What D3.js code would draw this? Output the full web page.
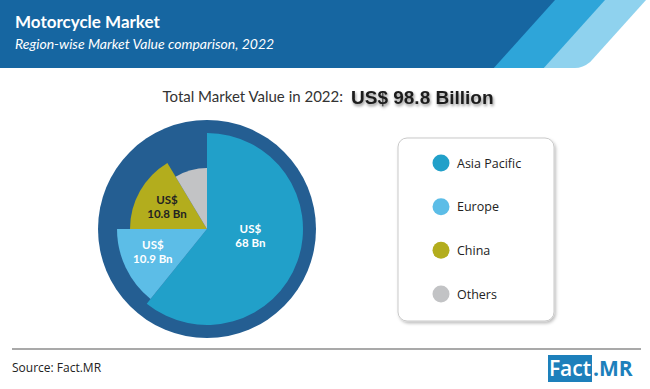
<!DOCTYPE html>
<html>
<head>
<meta charset="utf-8">
<script src="https://cdn.jsdelivr.net/npm/d3@7"></script>
<style>
  html, body { margin: 0; padding: 0; background: #ffffff; }
  svg { display: block; }
</style>
</head>
<body>
<svg id="chart" width="650" height="389"></svg>
<script>
// ---------------- data ----------------
const title = "Motorcycle Market";
const subtitle = "Region-wise Market Value comparison, 2022";
const totalLabel = "Total Market Value in 2022:";
const totalValue = "US$ 98.8 Billion";
const regions = ["Asia Pacific", "Europe", "China", "Others"];
const values = [68, 10.9, 10.8, null];            // US$ Bn, as labelled
const sliceShare = [60.8, 14.2, 16.4, 8.6];        // angular share of each slice as drawn (%)
const sourceText = "Source: Fact.MR";

// ---------------- style ----------------
const colors = ["#21a0c9", "#5cbde7", "#b3ad1d", "#c2c3c5"];
const labelColors = ["#ffffff", "#ffffff", "#222222", "#222222"];
const ringColor = "#245e92";
const W = 650, H = 389;
const cx = 207, cy = 229, ringR = 109;
const sliceRadius = [96, 90, 77, 61];

const svg = d3.select("#chart");
const defs = svg.append("defs");
const sh = defs.append("filter").attr("id", "txtShadow").attr("x", "-10%").attr("y", "-30%").attr("width", "120%").attr("height", "170%");
sh.append("feDropShadow").attr("dx", 1).attr("dy", 2).attr("stdDeviation", 1.6).attr("flood-color", "#000").attr("flood-opacity", 0.45);
const bs = defs.append("filter").attr("id", "boxShadow").attr("x", "-10%").attr("y", "-10%").attr("width", "125%").attr("height", "125%");
bs.append("feDropShadow").attr("dx", 1.5).attr("dy", 2).attr("stdDeviation", 1.8).attr("flood-color", "#000").attr("flood-opacity", 0.25);

// ---------------- header ----------------
const hdrH = 68, k = 0.9;
const header = svg.append("g");
header.append("path")
  .attr("d", `M600,0 L646,0 L${646 - k * 62},62 Q${646 - k * 68 - 2},68 ${646 - k * 68 - 10},68 L${600 - k * 68},68 Z`)
  .attr("fill", "#8fd2ee");
header.append("path")
  .attr("d", `M550,0 L605,0 L${605 - k * 68},68 L${550 - k * 68},68 Z`)
  .attr("fill", "#2ea5d9");
header.append("path")
  .attr("d", `M0,0 L555,0 L${555 - k * hdrH},${hdrH} L0,${hdrH} Z`)
  .attr("fill", "#1666a1");

header.append("text").attr("x", 15).attr("y", 28)
  .attr("font-family", "Lato, 'Open Sans', sans-serif").attr("font-weight", 700).attr("font-size", 17)
  .attr("fill", "#fff").text(title);
header.append("text").attr("x", 15).attr("y", 49)
  .attr("font-family", "Lato, 'Open Sans', sans-serif").attr("font-style", "italic").attr("font-size", 14)
  .attr("fill", "#fff").text(subtitle);

// ---------------- total ----------------
svg.append("text").attr("x", 343).attr("y", 102).attr("text-anchor", "end")
  .attr("font-family", "Lato, 'Open Sans', sans-serif").attr("font-size", 15)
  .attr("fill", "#333").text(totalLabel);
svg.append("text").attr("x", 351).attr("y", 104)
  .attr("font-family", "'Liberation Sans', Arial, sans-serif").attr("font-weight", 700).attr("font-size", 19)
  .attr("fill", "#1c1c1c").attr("filter", "url(#txtShadow)").text(totalValue);

// ---------------- pie ----------------
const pieG = svg.append("g").attr("transform", `translate(${cx},${cy})`);
pieG.append("circle").attr("r", ringR).attr("fill", ringColor);

const pie = d3.pie().sort(null).value(d => d.share);
const data = regions.map((r, i) => ({ region: r, value: values[i], share: sliceShare[i], i }));
const arcs = pie(data);
const arc = d3.arc().innerRadius(0).outerRadius(d => sliceRadius[d.data.i]);

pieG.selectAll("path.slice").data(arcs).join("path")
  .attr("class", "slice")
  .attr("d", arc)
  .attr("fill", d => colors[d.data.i]);

const labelR = [46, 60, 46, 0];
const labelDy = [-9, -3, 0, 0];
const lbl = pieG.selectAll("g.lbl").data(arcs.filter(d => d.data.value != null)).join("g")
  .attr("class", "lbl")
  .attr("transform", d => {
    const c = d3.arc().innerRadius(labelR[d.data.i]).outerRadius(labelR[d.data.i]).centroid(d);
    return `translate(${c[0]},${c[1] + labelDy[d.data.i]})`;
  });
lbl.append("text").attr("text-anchor", "middle").attr("y", -2.5)
  .attr("font-family", "Lato, 'Open Sans', sans-serif").attr("font-weight", 700).attr("font-size", 11.5)
  .attr("fill", d => labelColors[d.data.i]).text("US$");
lbl.append("text").attr("text-anchor", "middle").attr("y", 11.5)
  .attr("font-family", "Lato, 'Open Sans', sans-serif").attr("font-weight", 700).attr("font-size", 11.5)
  .attr("fill", d => labelColors[d.data.i]).text(d => `${d.data.value} Bn`);

// ---------------- legend ----------------
const lg = svg.append("g");
lg.append("rect").attr("x", 398).attr("y", 138).attr("width", 156).attr("height", 183).attr("rx", 9)
  .attr("fill", "#fff").attr("stroke", "#c9c9c9").attr("stroke-width", 1).attr("filter", "url(#boxShadow)");
const ly = d3.scalePoint().domain(regions).range([163, 294]);
const items = lg.selectAll("g.item").data(regions).join("g").attr("class", "item")
  .attr("transform", d => `translate(441,${ly(d)})`);
items.append("circle").attr("r", 8.5).attr("fill", (d, i) => colors[i]);
items.append("text").attr("x", 16).attr("y", 4.5)
  .attr("font-family", "'Open Sans', sans-serif").attr("font-size", 12.5).attr("fill", "#222").text(d => d);

// ---------------- footer ----------------
svg.append("line").attr("x1", 12).attr("x2", 641).attr("y1", 349).attr("y2", 349)
  .attr("stroke", "#a9a9a9").attr("stroke-width", 2);
svg.append("text").attr("x", 12).attr("y", 372)
  .attr("font-family", "'Open Sans', sans-serif").attr("font-size", 12).attr("fill", "#222").text(sourceText);
svg.append("rect").attr("x", 548).attr("y", 355).attr("width", 44).attr("height", 27).attr("fill", "#1d80bb");
svg.append("text").attr("x", 570).attr("y", 376).attr("text-anchor", "middle")
  .attr("font-family", "'Open Sans', sans-serif").attr("font-weight", 600).attr("font-size", 21)
  .attr("fill", "#fff").text("Fact");
svg.append("text").attr("x", 593).attr("y", 376)
  .attr("font-family", "'Open Sans', sans-serif").attr("font-weight", 700).attr("font-size", 21)
  .attr("fill", "#1d80bb").text(".MR");
</script>
</body>
</html>
